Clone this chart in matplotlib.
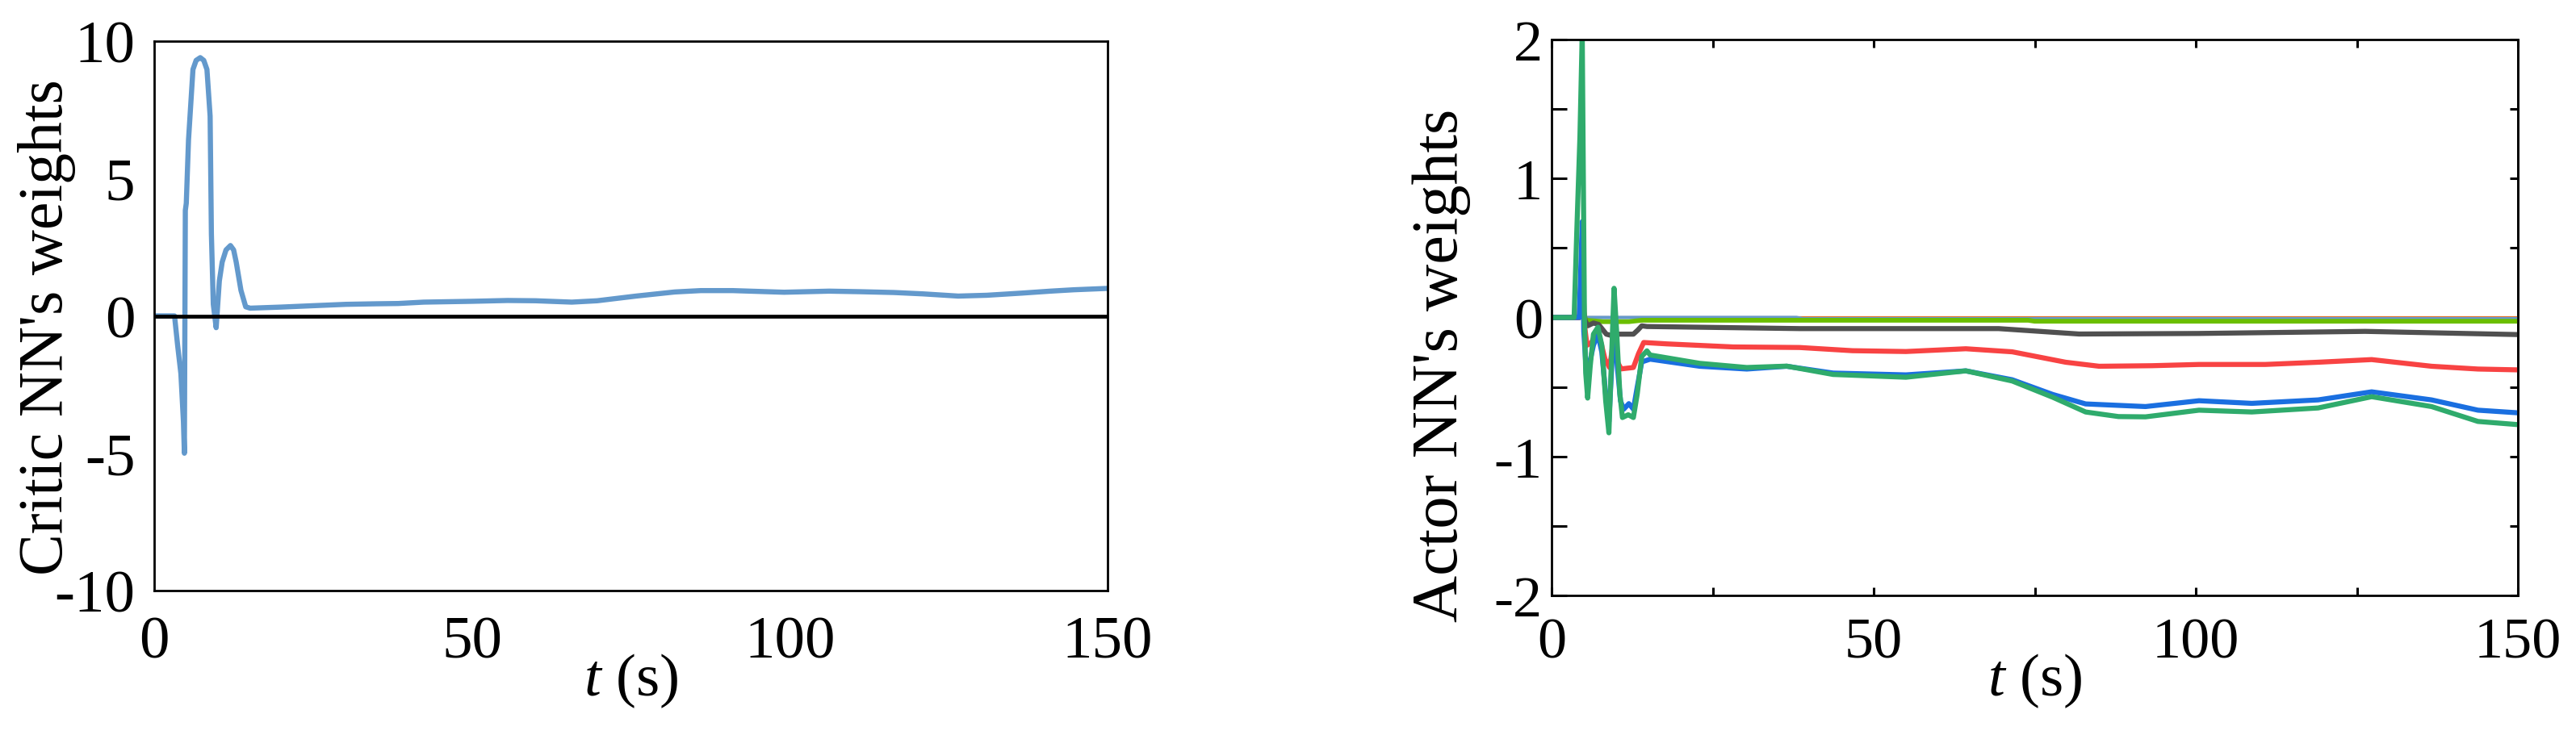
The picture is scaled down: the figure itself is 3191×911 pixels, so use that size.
import matplotlib
matplotlib.use('Agg')
import matplotlib.pyplot as plt
from matplotlib.ticker import MultipleLocator, NullFormatter

plt.rcParams['font.family'] = ['Liberation Serif', 'DejaVu Serif']
plt.rcParams['mathtext.fontset'] = 'custom'
plt.rcParams['mathtext.it'] = 'Liberation Serif:italic'
plt.rcParams['mathtext.rm'] = 'Liberation Serif'
plt.rcParams['axes.unicode_minus'] = False

# critic NN weight (left panel)
critic_t = [0, 3.2, 3.7, 4.2, 4.6, 4.75, 4.9, 5.05, 5.4, 6.1, 6.6, 7.25, 7.8, 8.3, 8.8,
            9.0, 9.3, 9.75, 10.25, 10.7, 11.3, 12.0, 12.5, 12.9, 13.65, 14.4, 15.1,
            20, 25, 30.2, 35, 38.4, 42.4, 50, 55.6, 60, 65.7, 69.7, 75.8, 81.9, 86,
            91.0, 99.1, 106.2, 111, 116.4, 121, 126.5, 131, 136.6, 141, 144.7, 150]
critic_w = [0, 0, -1.1, -2.1, -3.85, -5.0, 3.84, 4.1, 6.4, 8.97, 9.3, 9.4, 9.3, 8.97, 7.27,
            2.98, 0.42, -0.43, 1.27, 1.96, 2.4, 2.56, 2.4, 1.96, 0.93, 0.33, 0.28,
            0.32, 0.37, 0.42, 0.44, 0.45, 0.5, 0.53, 0.56, 0.55, 0.5, 0.55, 0.72, 0.87, 0.92,
            0.92, 0.86, 0.9, 0.88, 0.85, 0.8, 0.72, 0.75, 0.83, 0.9, 0.95, 1.0]

# actor NN weights (right panel)
green_t = [0, 3.5, 3.9, 4.4, 4.76, 5.1, 5.3, 5.6, 6.0, 6.5, 7.2, 7.8, 8.4, 8.9, 9.3, 9.7,
           10.1, 10.6, 11.0, 11.9, 12.7, 13.3, 14.0, 14.8, 15.3, 23, 30.3, 36.5, 43.7,
           55, 64.3, 71.5, 77.8, 82.9, 88, 92.2, 100.5, 108.7, 119, 127.3, 136.6, 143.8, 150]
green_w = [0, 0, 0.6, 1.3, 2.05, 0.0, -0.4, -0.58, -0.35, -0.12, -0.07, -0.2, -0.6, -0.83, -0.3, 0.21,
           -0.1, -0.55, -0.72, -0.70, -0.72, -0.55, -0.28, -0.24, -0.27, -0.33, -0.36, -0.35, -0.41,
           -0.43, -0.384, -0.457, -0.574, -0.68, -0.713, -0.715, -0.667, -0.68, -0.651, -0.57, -0.641, -0.748, -0.771]

blue_t = [0, 4.3, 4.76, 5.0, 5.4, 5.8, 6.5, 7.2, 7.8, 8.5, 8.9, 9.4, 9.7, 10.2, 10.7,
          11.2, 12.0, 12.7, 13.3, 14.0, 15.3, 23, 30.3, 36.5, 43.7, 55, 64.3, 71.5,
          77.8, 82.9, 92.2, 100.5, 108.7, 119, 127.3, 136.6, 143.8, 150]
blue_w = [0, 0, 0.69, -0.1, -0.4, -0.35, -0.2, -0.12, -0.25, -0.6, -0.75, -0.3, 0.0, -0.35, -0.6,
          -0.66, -0.62, -0.66, -0.5, -0.32, -0.30, -0.351, -0.371, -0.351, -0.4, -0.413, -0.384, -0.448,
          -0.554, -0.622, -0.641, -0.599, -0.618, -0.593, -0.535, -0.593, -0.667, -0.686]

red_t = [0, 4.3, 4.76, 5.1, 5.5, 6.2, 6.8, 7.5, 8.3, 9.0, 9.5, 10.0, 10.8, 12.7, 13.5, 14.3,
         17.9, 28.2, 38.5, 46.7, 55, 64.3, 71.5, 79.8, 85, 93.2, 100.5, 110.8, 119, 127.3,
         136.6, 143.8, 150]
red_w = [0, 0, 0.47, -0.05, -0.2, -0.18, -0.12, -0.15, -0.3, -0.36, -0.2, -0.3, -0.37, -0.36, -0.26, -0.18,
         -0.19, -0.212, -0.216, -0.239, -0.245, -0.225, -0.247, -0.322, -0.351, -0.347, -0.338, -0.338, -0.322, -0.303,
         -0.351, -0.371, -0.377]

gray_t = [0, 4.3, 4.76, 5.2, 5.6, 6.5, 7.3, 8.5, 9.3, 10.3, 12.7, 13.4, 14.0, 14.8,
          38.5, 69.4, 81.9, 100.4, 126.3, 150]
gray_w = [0, 0, 0.12, -0.02, -0.06, -0.04, -0.05, -0.12, -0.13, -0.12, -0.12, -0.09, -0.06, -0.065,
          -0.08, -0.08, -0.119, -0.115, -0.1, -0.123]

lime_t = [0, 4.5, 4.76, 5.3, 8, 12, 14, 74, 75, 150]
lime_w = [0, 0, 0.08, -0.02, -0.03, -0.03, -0.02, -0.02, -0.027, -0.027]

ltblue_t = [0, 38, 39, 150]
ltblue_w = [0, 0, -0.008, -0.008]

orange_t = [0, 150]
orange_w = [0.004, 0.004]

W, H = 3191, 912
fig = plt.figure(figsize=(W / 100, H / 100), dpi=100)

# ---- left: critic ----
ax1 = fig.add_axes([191 / W, 1 - 733 / H, (1372 - 191) / W, (733 - 52) / H])
ax1.plot(critic_t, critic_w, color='#6399CC', lw=4.6, zorder=2)
ax1.axhline(0, color='black', lw=3.4, zorder=3)
ax1.set_xlim(0, 150)
ax1.set_ylim(-10, 10)
ax1.set_xticks([0, 50, 100, 150])
ax1.set_yticks([-10, -5, 0, 5, 10])
ax1.tick_params(length=0, labelsize=54)
ax1.tick_params(axis='y', pad=17)
ax1.tick_params(axis='x', pad=22)
ax1.set_xlabel(r'$t$ (s)', fontsize=54, labelpad=-16)
ax1.set_ylabel("Critic NN's weights", fontsize=56, va='center')
ax1.yaxis.set_label_coords(-0.113, 0.48)
for s in ax1.spines.values():
    s.set_linewidth(2.0)

# ---- right: actor ----
ax2 = fig.add_axes([1922 / W, 1 - 739 / H, (3119 - 1922) / W, (739 - 50) / H])
ax2.plot(orange_t, orange_w, color='#FF6A00', lw=1.6, zorder=2)
ax2.plot(ltblue_t, ltblue_w, color='#6699CC', lw=3.0, zorder=2)
ax2.plot(lime_t, lime_w, color='#6BBE00', lw=4.2, zorder=2)
ax2.plot(gray_t, gray_w, color='#505050', lw=4.5, zorder=2)
ax2.plot(red_t, red_w, color='#F84343', lw=4.5, zorder=2)
ax2.plot(blue_t, blue_w, color='#1A6FE0', lw=4.5, zorder=2)
ax2.plot(green_t, green_w, color='#2FAB6C', lw=4.5, zorder=2)
ax2.set_xlim(0, 150)
ax2.set_ylim(-2, 2)
ax2.set_xticks([0, 50, 100, 150])
ax2.set_yticks([-2, -1, 0, 1, 2])
ax2.xaxis.set_minor_locator(MultipleLocator(25))
ax2.yaxis.set_minor_locator(MultipleLocator(0.5))
ax2.tick_params(which='both', direction='in', top=True, right=False,
                width=2.2, labelsize=52)
ax2.tick_params(axis='y', which='both', length=14, pad=8)
ax2.tick_params(axis='x', which='both', length=7, pad=19)
ax2.set_xlabel(r'$t$ (s)', fontsize=54, labelpad=-16)
ax2.set_ylabel("Actor NN's weights", fontsize=58, va='center')
ax2.yaxis.set_label_coords(-0.114, 0.415)
for s in ax2.spines.values():
    s.set_linewidth(2.0)

# shorter ticks on the right spine
sec = ax2.secondary_yaxis('right')
sec.set_yticks([-2, -1, 0, 1, 2])
sec.yaxis.set_minor_locator(MultipleLocator(0.5))
sec.yaxis.set_major_formatter(NullFormatter())
sec.tick_params(which='both', direction='in', length=7, width=2.2)
sec.spines['right'].set_linewidth(2.0)

fig.savefig('out.png', dpi=100)
